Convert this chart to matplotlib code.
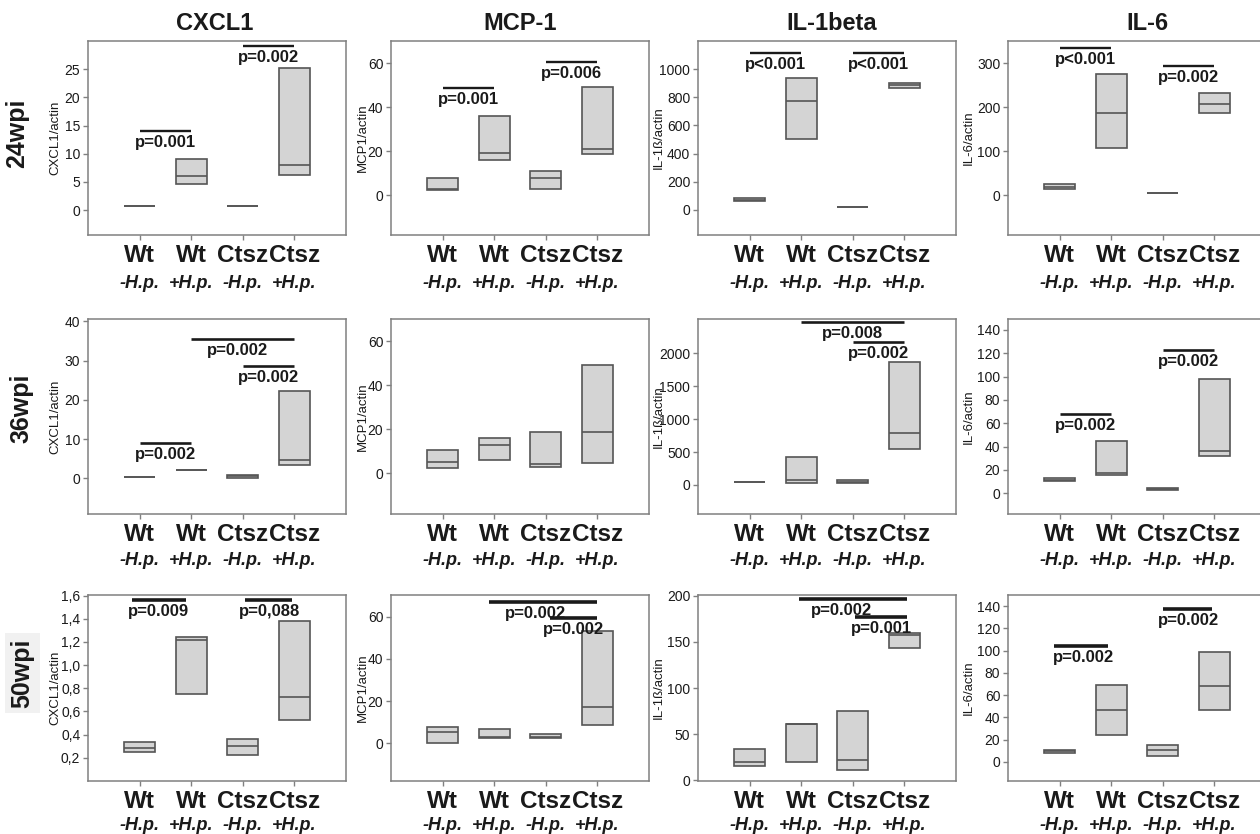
import matplotlib
matplotlib.use('Agg')
import matplotlib.pyplot as plt
from matplotlib.ticker import FuncFormatter

plt.rcParams['font.family'] = ['Liberation Sans', 'DejaVu Sans']

markers = ['CXCL1', 'MCP-1', 'IL-1beta', 'IL-6']
ylabels = ['CXCL1/actin', 'MCP1/actin', 'IL-1ß/actin', 'IL-6/actin']
timepoints = ['24wpi', '36wpi', '50wpi']
genotype = ['Wt', 'Wt', 'Ctsz', 'Ctsz']
infection = ['-H.p.', '+H.p.', '-H.p.', '+H.p.']

# (q1, median, q3) for Wt-, Wt+, Ctsz-, Ctsz+
cxcl1_24 = [(0.8, 0.8, 0.8), (4.7, 6.0, 9.0), (0.7, 0.7, 0.7), (6.3, 8.1, 25.3)]
mcp1_24 = [(2.3, 2.9, 7.9), (15.9, 19.0, 36.0), (2.7, 8.0, 10.9), (18.7, 20.8, 49.3)]
il1b_24 = [(62, 71, 83), (502, 775, 940), (23, 23, 23), (867, 886, 905)]
il6_24 = [(13.7, 19, 25), (108, 188, 276), (4.6, 4.6, 4.6), (188, 207, 232)]

cxcl1_36 = [(0.4, 0.4, 0.4), (2.0, 2.1, 2.2), (0.2, 0.5, 0.8), (3.5, 4.7, 22.3)]
mcp1_36 = [(2.5, 5.2, 10.7), (5.9, 12.9, 16.1), (2.9, 4.3, 18.7), (4.6, 18.7, 48.9)]
il1b_36 = [(40, 40, 40), (30, 76, 430), (25, 45, 70), (545, 789, 1875)]
il6_36 = [(10, 11.5, 13), (15.7, 17.4, 44.7), (2.9, 3.8, 4.8), (31.5, 35.8, 98.3)]

cxcl1_50 = [(0.246, 0.286, 0.338), (0.754, 1.215, 1.241), (0.221, 0.304, 0.364), (0.527, 0.726, 1.379)]
mcp1_50 = [(0.0, 5.2, 7.6), (2.6, 3.2, 6.7), (2.5, 3.0, 4.4), (8.7, 17.1, 53.3)]
il1b_50 = [(15.4, 19.4, 34.1), (19.4, 60.6, 61.0), (11.4, 22.0, 75.3), (143.2, 157.5, 159.7)]
il6_50 = [(8.4, 9.6, 11.1), (24, 46.6, 69.2), (5.1, 11.1, 15), (46.6, 68, 98.5)]

# significance: (from, to, height, text x, label)
sig_cxcl1_24 = [(1, 2, 14.0, 1.5, 'p=0.001'), (3, 4, 29.2, 3.5, 'p=0.002')]
sig_mcp1_24 = [(1, 2, 48.9, 1.5, 'p=0.001'), (3, 4, 60.6, 3.5, 'p=0.006')]
sig_il1b_24 = [(1, 2, 1113, 1.5, 'p<0.001'), (3, 4, 1113, 3.5, 'p<0.001')]
sig_il6_24 = [(1, 2, 334, 1.5, 'p<0.001'), (3, 4, 293, 3.5, 'p=0.002')]

sig_cxcl1_36 = [(1, 2, 8.9, 1.5, 'p=0.002'), (2, 4, 35.4, 2.9, 'p=0.002'), (3, 4, 28.6, 3.5, 'p=0.002')]
sig_mcp1_36 = []
sig_il1b_36 = [(2, 4, 2485, 3.0, 'p=0.008'), (3, 4, 2168, 3.5, 'p=0.002')]
sig_il6_36 = [(1, 2, 67.7, 1.5, 'p=0.002'), (3, 4, 122.6, 3.5, 'p=0.002')]

sig_cxcl1_50 = [(0.85, 1.9, 1.562, 1.37, 'p=0.009'), (3.04, 3.95, 1.562, 3.52, 'p=0,088')]
sig_mcp1_50 = [(1.89, 4.0, 67.2, 2.8, 'p=0.002'), (3.08, 4.0, 59.3, 3.53, 'p=0.002')]
sig_il1b_50 = [(1.95, 4.06, 196.4, 2.78, 'p=0.002'), (3.05, 4.06, 176.9, 3.56, 'p=0.001')]
sig_il6_50 = [(0.9, 1.93, 104.4, 1.46, 'p=0.002'), (3.0, 3.95, 137.1, 3.5, 'p=0.002')]

yticks = [
    [[0, 5, 10, 15, 20, 25], [0, 20, 40, 60], [0, 200, 400, 600, 800, 1000], [0, 100, 200, 300]],
    [[0, 10, 20, 30, 40], [0, 20, 40, 60], [0, 500, 1000, 1500, 2000], [0, 20, 40, 60, 80, 100, 120, 140]],
    [[0.2, 0.4, 0.6, 0.8, 1.0, 1.2, 1.4, 1.6], [0, 20, 40, 60], [0, 50, 100, 150, 200], [0, 20, 40, 60, 80, 100, 120, 140]],
]
ylims = [
    [(-4.4, 30), (-18, 70), (-178, 1200), (-91, 351)],
    [(-9.1, 40.6), (-18.5, 70), (-443, 2524), (-17.9, 149.4)],
    [(0, 1.605), (-17.8, 70.3), (-0.9, 200.9), (-17.1, 149.9)],
]

data = [[cxcl1_24, mcp1_24, il1b_24, il6_24],
        [cxcl1_36, mcp1_36, il1b_36, il6_36],
        [cxcl1_50, mcp1_50, il1b_50, il6_50]]
sigs = [[sig_cxcl1_24, sig_mcp1_24, sig_il1b_24, sig_il6_24],
        [sig_cxcl1_36, sig_mcp1_36, sig_il1b_36, sig_il6_36],
        [sig_cxcl1_50, sig_mcp1_50, sig_il1b_50, sig_il6_50]]

# layout in pixels
W, H = 1260, 834
col_left = [88, 391, 698, 1008]
col_w = 258
row_top = [41, 319, 595]
row_bot = [235, 514, 781]
ylab_off = [-33, -28, -39, -39]
sub_off = [40, 38, 36]
sig_lw = [1.7, 1.9, 2.6]
title_x = [215, 520, 832, 1147]
rowlab_x = [17, 21, 22]
rowlab_y = [133, 408, 673]

spine_c = '#808080'
box_c = '#d4d4d4'
edge_c = '#555555'
ink = '#1a1a1a'

fig = plt.figure(figsize=(W / 100, H / 100), dpi=100)

for r in range(3):
    for c in range(4):
        ax = fig.add_axes([col_left[c] / W, 1 - row_bot[r] / H, col_w / W, (row_bot[r] - row_top[r]) / H])
        stats = [dict(q1=q1, med=m, q3=q3, whislo=q1, whishi=q3, fliers=[]) for q1, m, q3 in data[r][c]]
        ax.bxp(stats, positions=[1, 2, 3, 4], widths=0.6, patch_artist=True,
               showcaps=False, showfliers=False, manage_ticks=False,
               boxprops=dict(facecolor=box_c, edgecolor=edge_c, linewidth=1.2),
               medianprops=dict(color=edge_c, linewidth=1.2),
               whiskerprops=dict(linewidth=0))
        ax.set_xlim(0, 5)
        ax.set_ylim(*ylims[r][c])
        ax.set_yticks(yticks[r][c])
        if r == 2 and c == 0:
            ax.yaxis.set_major_formatter(FuncFormatter(lambda v, p: f'{v:.1f}'.replace('.', ',')))
        ax.set_xticks([1, 2, 3, 4])
        ax.set_xticklabels([])
        ax.tick_params(axis='both', colors=spine_c, length=3.5, width=1, labelcolor=ink, labelsize=10, pad=2)
        for s in ax.spines.values():
            s.set_color(spine_c)
            s.set_linewidth(1.1)
        ax.set_ylabel(ylabels[c], fontsize=9.5, color=ink)
        ax.yaxis.set_label_coords((ylab_off[c] + 6) / col_w, 0.5)

        for i in range(4):
            ax.annotate(genotype[i], xy=(i + 1, 0), xycoords=ax.get_xaxis_transform(),
                        xytext=(0, -9), textcoords='offset pixels', ha='center', va='top',
                        fontsize=17.5, fontweight='bold', color=ink, annotation_clip=False)
            ax.annotate(infection[i], xy=(i + 1, 0), xycoords=ax.get_xaxis_transform(),
                        xytext=(0, -sub_off[r]), textcoords='offset pixels', ha='center', va='top',
                        fontsize=13, fontweight='bold', fontstyle='italic', color=ink,
                        annotation_clip=False)

        for x1, x2, y, tx, lab in sigs[r][c]:
            ax.plot([x1, x2], [y, y], color=ink, lw=sig_lw[r], solid_capstyle='butt', clip_on=False)
            ax.annotate(lab, xy=(tx, y), xytext=(0, -4), textcoords='offset pixels',
                        ha='center', va='top', fontsize=12, fontweight='bold',
                        color=ink, annotation_clip=False)

for c in range(4):
    fig.text(title_x[c] / W, 1 - 23 / H, markers[c], ha='center', va='center',
             fontsize=17, fontweight='bold', color=ink)

for r in range(3):
    bbox = dict(facecolor='#f1f1f1', edgecolor='none', pad=4) if r == 2 else None
    fig.text(rowlab_x[r] / W, 1 - rowlab_y[r] / H, timepoints[r], rotation=90,
             ha='center', va='center', fontsize=18, fontweight='bold', color=ink, bbox=bbox)

fig.savefig('out.png', dpi=100, facecolor='white')
